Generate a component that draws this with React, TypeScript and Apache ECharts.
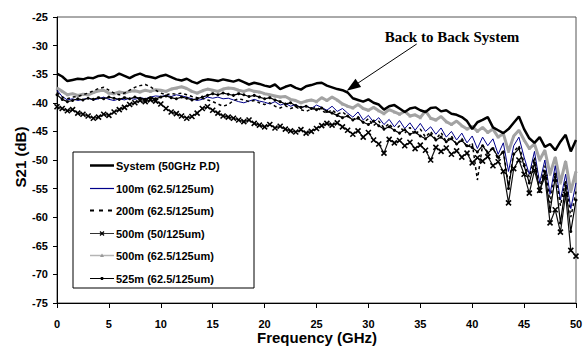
import React, { useEffect, useRef } from "react";
import * as echarts from "echarts";

// Sampling grid: 0 to 50 GHz every 0.5 GHz
const freqGHz: number[] = Array.from({ length: 101 }, (_, i) => i * 0.5);

const xTicks = { min: 0, max: 50, step: 5 };
const yTicks = { min: -75, max: -25, step: 5 };

const seriesNames = [
  "System (50GHz P.D)",
  "100m (62.5/125um)",
  "200m (62.5/125um)",
  "500m (50/125um)",
  "500m (62.5/125um)",
  "525m (62.5/125um)",
];

const systemDb: number[] = [
  -34.9, -35.4, -36.2, -36.0, -35.8, -35.9, -35.6, -35.7, -35.3, -35.2,
  -35.6, -35.4, -34.9, -35.3, -35.7, -35.2, -34.9, -35.3, -35.5, -35.7,
  -35.3, -35.1, -35.5, -35.9, -36.1, -35.8, -36.3, -36.6, -36.1, -35.9,
  -36.0, -36.2, -35.9, -36.1, -36.3, -36.0, -36.4, -36.8, -36.5, -36.7,
  -37.0, -37.2, -36.8, -37.6, -37.2, -36.9, -37.4, -37.7, -37.1, -36.9,
  -36.6, -36.5, -37.0, -37.3, -37.6, -37.8, -38.2, -39.2, -39.5, -39.8,
  -39.4, -40.0, -40.3, -41.2, -40.6, -40.4, -41.0, -41.6, -41.0, -40.8,
  -41.3, -41.6, -40.9, -40.8, -41.5, -41.3, -41.9, -42.1, -42.5, -43.2,
  -44.6, -43.4, -43.0, -42.5, -44.3, -44.8, -45.3, -44.6, -43.5, -42.4,
  -44.6, -46.2, -47.0, -46.0, -47.7, -47.2, -48.3, -46.8, -45.6, -48.5,
  -46.5,
];

const m100Db: number[] = [
  -37.8, -38.9, -39.5, -39.3, -39.6, -39.4, -39.2, -39.5, -39.3, -39.0,
  -39.4, -39.6, -39.3, -39.5, -39.2, -39.4, -39.1, -39.3, -39.0, -38.8,
  -38.9, -38.7, -38.9, -38.6, -38.8, -39.0, -39.3, -39.6, -39.4, -39.0,
  -39.2, -39.0, -39.3, -39.2, -39.5, -39.8, -40.0, -39.7, -39.4, -39.7,
  -39.9, -40.2, -39.8, -40.4, -40.1, -40.6, -40.3, -40.9, -40.5, -41.0,
  -40.4, -40.8, -41.3, -40.6, -41.5, -41.0, -41.8, -42.5, -41.6, -43.0,
  -42.2, -43.4, -42.6, -43.8, -42.9, -44.2, -43.1, -44.5, -43.5, -44.8,
  -43.6, -45.0, -44.2, -45.5, -44.4, -46.0, -45.0, -46.5, -45.3, -47.0,
  -45.8, -48.0, -46.0, -47.5, -46.3, -49.0, -47.0, -52.0, -47.5, -46.0,
  -49.5, -52.5, -48.5, -54.0, -50.0, -56.0, -51.0, -57.0, -52.5, -58.5,
  -54.0,
];

const m200Db: number[] = [
  -38.2, -39.0, -39.3, -39.0, -38.9, -38.6, -38.3, -37.9, -37.5, -37.3,
  -37.8, -38.3, -38.6, -38.3, -37.8, -37.3, -37.0, -36.8, -37.2, -37.8,
  -38.3, -38.6, -38.4, -38.5, -38.3, -38.6, -38.9, -39.1, -39.2, -39.5,
  -39.8, -40.2, -40.6, -40.3, -39.6, -39.3, -39.5, -39.8, -39.6, -40.0,
  -40.3, -40.0, -40.6, -40.9, -40.5, -41.0, -40.7, -41.2, -41.5, -41.1,
  -40.8, -41.4, -41.8, -41.2, -42.0, -41.6, -42.3, -43.0, -42.4, -43.5,
  -42.8, -44.0, -43.2, -44.4, -43.6, -44.9, -44.0, -45.3, -44.3, -45.6,
  -44.6, -46.0, -45.0, -46.4, -45.2, -46.8, -45.8, -47.3, -46.2, -47.8,
  -47.0, -53.5, -47.4, -48.6, -47.8, -50.0, -48.2, -54.5, -48.6, -47.5,
  -50.5, -53.0, -49.5, -55.0, -51.0, -57.5, -52.0, -58.0, -53.5, -60.0,
  -55.5,
];

const m500mm50Db: number[] = [
  -40.7, -41.0, -41.4, -41.2, -41.8, -42.0, -42.3, -42.7, -42.5, -42.0,
  -42.2, -41.6, -41.2, -40.8, -40.3, -40.0, -39.6, -39.8, -39.5, -39.7,
  -40.2, -41.0, -41.6, -41.9, -42.3, -42.7, -42.4, -41.8, -41.0, -40.7,
  -41.3, -41.8, -42.3, -42.5, -42.7, -43.0, -43.3, -43.0, -43.6, -43.9,
  -44.2, -43.8, -44.4, -44.1, -44.6, -44.9, -45.1, -44.7, -45.3, -45.0,
  -44.5, -44.0, -43.6, -43.9, -43.5, -44.2, -44.8, -45.5, -44.9, -46.0,
  -45.2, -46.5, -47.2, -48.8, -46.4, -47.0, -46.6, -47.5, -46.9, -48.0,
  -47.4, -48.3, -50.0, -47.8, -48.5, -47.9, -49.0, -48.4, -49.5, -48.8,
  -50.5, -49.6, -50.2, -49.4, -51.0, -50.3, -52.0, -57.5, -51.5, -50.0,
  -52.5, -55.8, -51.8, -55.3, -53.0, -61.0, -58.7, -62.6, -56.0, -65.8,
  -66.8,
];

const m500mm62Db: number[] = [
  -37.4, -38.0, -38.6, -38.4, -38.7, -38.5, -38.6, -38.2, -37.9, -37.8,
  -38.3, -38.4, -38.1, -38.3, -38.0, -37.9, -38.1, -37.8, -38.0, -37.7,
  -37.8, -38.0, -37.6, -37.4, -37.2, -37.5, -38.0, -38.3, -37.9, -37.6,
  -37.8, -38.0, -37.6, -37.4, -37.5, -37.8, -38.0, -37.7, -38.0, -38.1,
  -38.4, -38.6, -38.8, -39.0, -38.9, -39.4, -39.6, -40.0, -39.7, -39.5,
  -39.8, -39.1, -39.6, -39.0, -39.5, -40.2, -40.6, -40.9, -40.3, -41.0,
  -41.3, -40.8, -41.4, -41.9, -41.2, -41.6, -42.0, -41.5, -42.3, -42.1,
  -42.6, -41.4, -42.7, -43.0, -42.4, -43.3, -43.8, -43.2, -44.0, -44.6,
  -44.1, -45.0, -44.3, -45.2, -44.6, -46.0, -45.4, -48.5, -45.8, -44.8,
  -46.5, -48.0, -47.2, -50.0, -48.3, -52.5, -49.5, -54.0, -50.2, -55.5,
  -52.0,
];

const m525Db: number[] = [
  -38.6, -39.4, -39.8, -39.6, -39.3, -39.5, -39.2, -39.4, -39.1, -39.3,
  -39.0, -39.2, -39.4, -39.1, -39.3, -39.0, -39.2, -39.4, -39.1, -39.3,
  -39.0, -38.8, -39.1, -39.3, -39.0, -39.2, -39.5, -39.3, -39.0, -38.7,
  -38.4, -38.6, -38.3, -38.5, -38.7, -38.4, -38.6, -38.9, -38.7, -39.0,
  -39.3, -39.1, -39.5, -39.8, -40.2, -40.0, -40.5, -40.8, -40.6, -41.0,
  -41.2, -40.9, -41.5, -41.8, -42.2, -42.6, -42.3, -43.0, -42.7, -43.4,
  -43.8, -43.2, -44.0, -44.6, -44.2, -44.8, -45.3, -44.7, -45.5, -45.1,
  -45.8, -46.3, -45.6, -46.5, -46.0, -46.8, -46.3, -47.2, -46.6, -47.5,
  -47.8, -48.6, -47.5, -48.8, -48.0, -49.5, -48.6, -55.0, -49.0, -48.0,
  -51.0, -54.0, -50.5, -55.5, -52.0, -59.0, -53.0, -61.0, -54.5, -62.5,
  -57.0,
];

const annotationText = "Back to Back System";
const xTitle = "Frequency (GHz)";
const yTitle = "S21 (dB)";

const pair = (ys: number[]) => freqGHz.map((f, i) => [f, ys[i]]);

const SANS = "Arial, 'Liberation Sans', sans-serif";
const SERIF = "'Times New Roman', 'Liberation Serif', serif";

const BLUE = "#00008b";
const GRAY = "#a3a3a3";

// Legend drawn as graphic elements
function buildLegend() {
  const x0 = 73, y0 = 152, w = 181, h = 136;
  const first = 165, gap = 22.6;
  const lx1 = 90, lx2 = 114, tx = 116, mx = 102;
  const els: any[] = [
    { type: "rect", shape: { x: x0, y: y0, width: w, height: h }, style: { fill: "#fff", stroke: "#000", lineWidth: 1 }, z: 50 },
  ];
  const styles = [
    { stroke: "#000", lineWidth: 2.5 },
    { stroke: BLUE, lineWidth: 1.2 },
    { stroke: "#000", lineWidth: 2, lineDash: [4, 5] },
    { stroke: "#333", lineWidth: 1 },
    { stroke: "#b5b5b5", lineWidth: 1.5 },
    { stroke: "#000", lineWidth: 1 },
  ];
  seriesNames.forEach((name, i) => {
    const cy = Math.round(first + i * gap) + 0.5;
    els.push({ type: "line", z: 51, shape: { x1: lx1, y1: cy, x2: lx2, y2: cy }, style: styles[i] });
    if (i === 3) {
      els.push({ type: "line", z: 52, shape: { x1: mx - 2, y1: cy - 2, x2: mx + 2, y2: cy + 2 }, style: { stroke: "#000", lineWidth: 1.2 } });
      els.push({ type: "line", z: 52, shape: { x1: mx - 2, y1: cy + 2, x2: mx + 2, y2: cy - 2 }, style: { stroke: "#000", lineWidth: 1.2 } });
    }
    if (i === 4) {
      els.push({ type: "polygon", z: 52, shape: { points: [[mx, cy - 2], [mx + 2, cy + 1.5], [mx - 2, cy + 1.5]] }, style: { fill: "#999" } });
    }
    if (i === 5) {
      els.push({ type: "circle", z: 52, shape: { cx: mx, cy, r: 1.6 }, style: { fill: "#000" } });
    }
    els.push({
      type: "text",
      z: 52,
      x: tx,
      y: cy,
      style: { text: name, font: `bold 11px ${SANS}`, fill: "#000", verticalAlign: "middle", align: "left" },
    });
  });
  return els;
}

export default function App() {
  const ref = useRef<HTMLDivElement>(null);

  useEffect(() => {
    if (!ref.current) return;
    const chart = echarts.init(ref.current, undefined, { renderer: "svg" });
    const labelStyle = { fontFamily: SANS, fontWeight: "bold" as const, fontSize: 11, color: "#000" };

    chart.setOption({
      animation: false,
      backgroundColor: "#fff",
      grid: {
        left: 57,
        right: 8,
        top: 17,
        bottom: 44,
        show: true,
        borderColor: "#555",
        borderWidth: 1,
        containLabel: false,
        outerBoundsMode: "none",
      },
      xAxis: {
        type: "value",
        min: xTicks.min,
        max: xTicks.max,
        interval: xTicks.step,
        axisLine: { lineStyle: { color: "#000", width: 1 } },
        axisTick: { show: true, length: 5, inside: false, lineStyle: { color: "#000" } },
        axisLabel: { ...labelStyle, margin: 15 },
        splitLine: { show: false },
      },
      yAxis: {
        type: "value",
        min: yTicks.min,
        max: yTicks.max,
        interval: yTicks.step,
        axisLine: { show: true, lineStyle: { color: "#000", width: 1 } },
        axisTick: { show: true, length: 4, inside: false, lineStyle: { color: "#000" } },
        axisLabel: { ...labelStyle, margin: 9 },
        splitLine: { show: false },
      },
      series: [
        {
          name: seriesNames[4],
          type: "line",
          data: pair(m500mm62Db),
          symbol: "triangle",
          symbolSize: 3,
          showSymbol: true,
          lineStyle: { color: GRAY, width: 3 },
          itemStyle: { color: GRAY },
          z: 2,
        },
        {
          name: seriesNames[1],
          type: "line",
          data: pair(m100Db),
          symbol: "none",
          lineStyle: { color: BLUE, width: 1 },
          itemStyle: { color: BLUE },
          z: 3,
        },
        {
          name: seriesNames[2],
          type: "line",
          data: pair(m200Db),
          symbol: "none",
          lineStyle: { color: "#000", width: 1.5, type: [3, 3] },
          itemStyle: { color: "#000" },
          z: 3,
        },
        {
          name: seriesNames[5],
          type: "line",
          data: pair(m525Db),
          symbol: "circle",
          symbolSize: 3,
          showSymbol: true,
          lineStyle: { color: "#000", width: 1.2 },
          itemStyle: { color: "#000" },
          z: 4,
        },
        {
          name: seriesNames[3],
          type: "line",
          data: pair(m500mm50Db),
          symbol: "path://M0,0L10,10M10,0L0,10",
          symbolSize: 5,
          showSymbol: true,
          lineStyle: { color: "#111", width: 1.2 },
          itemStyle: { color: "#000", borderColor: "#000", borderWidth: 1.6 },
          z: 5,
        },
        {
          name: seriesNames[0],
          type: "line",
          data: pair(systemDb),
          symbol: "none",
          lineStyle: { color: "#000", width: 2.5 },
          itemStyle: { color: "#000" },
          z: 6,
        },
      ],
      graphic: [
        ...buildLegend(),
        {
          type: "text",
          x: 317,
          y: 337,
          z: 100,
          style: {
            text: xTitle,
            font: `bold 15px ${SANS}`,
            fill: "#000",
            align: "center",
            verticalAlign: "middle",
          },
        },
        {
          type: "text",
          x: 20,
          y: 157,
          rotation: Math.PI / 2,
          z: 100,
          style: {
            text: yTitle,
            font: `bold 15px ${SANS}`,
            fill: "#000",
            align: "center",
            verticalAlign: "middle",
          },
        },
        {
          type: "text",
          x: 452,
          y: 37,
          z: 100,
          style: {
            text: annotationText,
            font: `bold 15px ${SERIF}`,
            fill: "#000",
            align: "center",
            verticalAlign: "middle",
          },
        },
        {
          type: "line",
          z: 100,
          shape: { x1: 416.7, y1: 44, x2: 357.5, y2: 83.4 },
          style: { stroke: "#000", lineWidth: 1 },
        },
        {
          type: "polygon",
          z: 100,
          shape: { points: [[346.7, 90.7], [361.1, 87.1], [355.5, 78.7]] },
          style: { fill: "#000" },
        },
      ],
    });

    return () => chart.dispose();
  }, []);

  return (
    <div
      ref={ref}
      style={{ position: "fixed", left: 0, top: 0, width: 584, height: 347, background: "#fff" }}
    />
  );
}
